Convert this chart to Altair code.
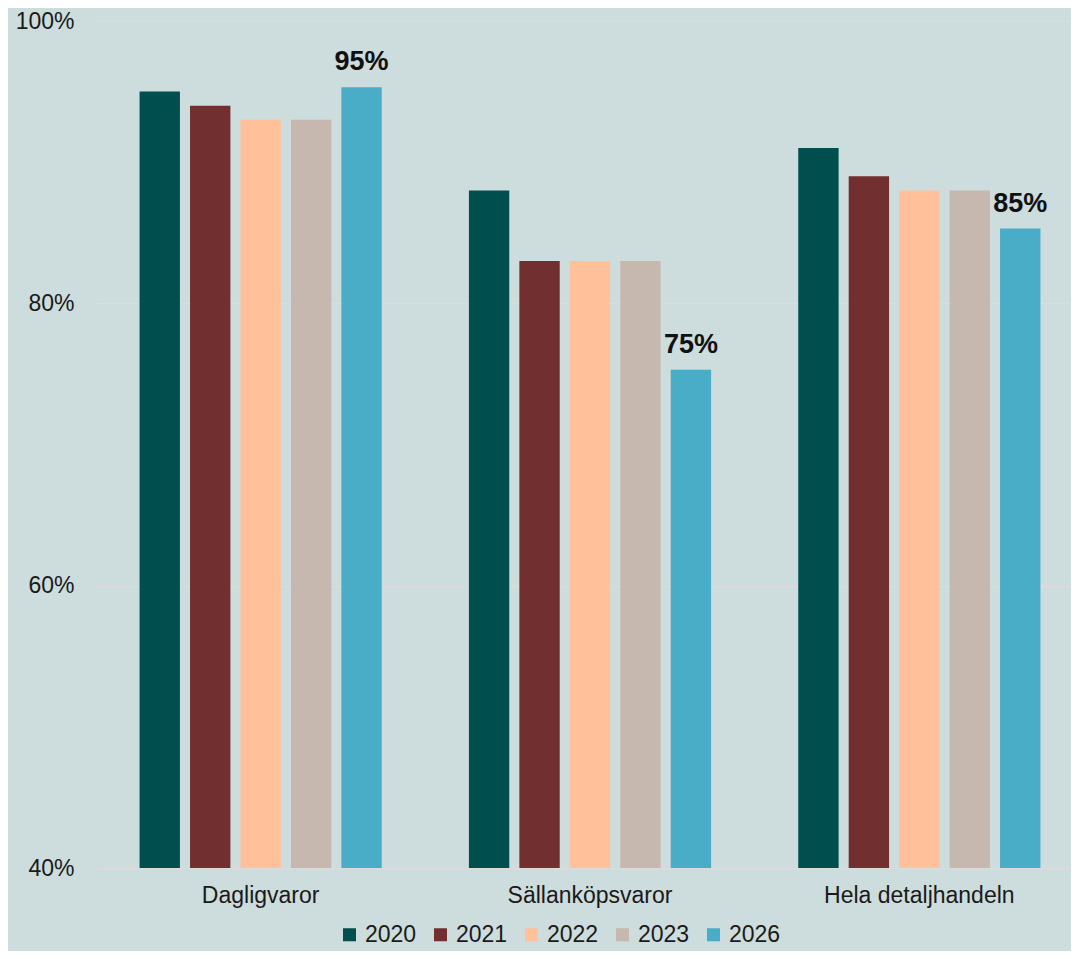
import altair as alt
import pandas as pd

categories = ["Dagligvaror", "Sällanköpsvaror", "Hela detaljhandeln"]
years = ["2020", "2021", "2022", "2023", "2026"]
colors = ["#004f4f", "#722f2f", "#ffc09a", "#c6b8af", "#4aadc7"]
values = {
    "2020": [0.950, 0.880, 0.910],
    "2021": [0.940, 0.830, 0.890],
    "2022": [0.930, 0.830, 0.880],
    "2023": [0.930, 0.830, 0.880],
    "2026": [0.953, 0.753, 0.853],
}
label_year = "2026"

rows = []
for y in years:
    for c, v in zip(categories, values[y]):
        rows.append({"kategori": c, "år": y, "andel": v})
df = pd.DataFrame(rows)

FONT = "Liberation Sans"

x = alt.X("kategori:N", sort=categories, title=None,
          scale=alt.Scale(paddingInner=0.234, paddingOuter=0.117, range=[0, 988]),
          axis=alt.Axis(labelAngle=0, labelFontSize=23, labelColor="#1a1a1a",
                        labelFont=FONT, domain=False, ticks=False, labelPadding=16,
                        labelLimit=400))
xo = alt.XOffset("år:N", sort=years,
                 scale=alt.Scale(paddingInner=0.2, paddingOuter=0.1))
y = alt.Y("andel:Q", title=None,
          scale=alt.Scale(domain=[0.4, 1.0], zero=False, nice=False),
          axis=alt.Axis(values=[0.4, 0.6, 0.8, 1.0], format=".0%", labelFontSize=23,
                        labelColor="#1a1a1a", labelFont=FONT, domain=False, ticks=False,
                        tickSize=0, labelPadding=22, grid=True, gridColor="#dddcdc",
                        gridWidth=1.2))

bars = alt.Chart(df).mark_bar().encode(
    x=x, xOffset=xo, y=y, y2=alt.datum(0.4),
    color=alt.Color("år:N", sort=years,
                    scale=alt.Scale(domain=years, range=colors),
                    legend=alt.Legend(title=None, orient="none", direction="horizontal",
                                      columns=5, legendX=242, legendY=902,
                                      symbolType="square", symbolSize=169,
                                      symbolStrokeWidth=0, labelFontSize=23,
                                      labelFont=FONT, labelColor="#1a1a1a",
                                      labelOffset=4, columnPadding=12, padding=0)),
)

labels = alt.Chart(df).transform_filter(
    alt.datum["år"] == label_year
).mark_text(baseline="alphabetic", dy=-17, fontSize=27, fontWeight="bold",
            font=FONT, color="#111111").encode(
    x=x, xOffset=xo, y=y,
    text=alt.Text("andel:Q", format=".0%"),
)

chart = alt.layer(bars, labels).properties(
    width=975, height=847,
    background="#cddcdc",
    padding={"left": 88, "top": 13, "right": 0, "bottom": 83},
    autosize=alt.AutoSizeParams(type="none"),
).configure_view(stroke=None)

chart.save("out.html", embed_options={"renderer": "svg", "actions": False})
